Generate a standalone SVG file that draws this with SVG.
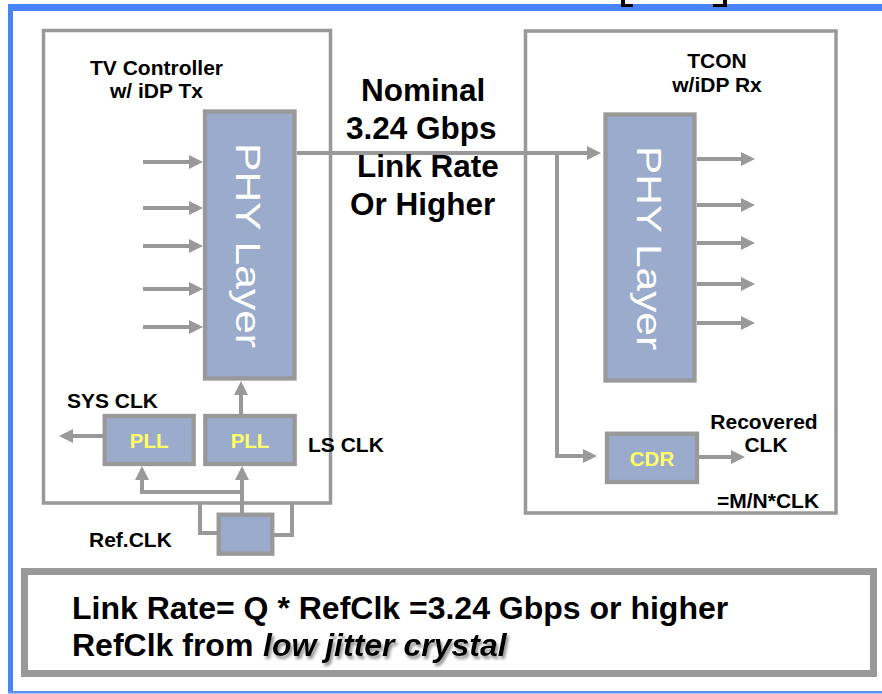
<svg xmlns="http://www.w3.org/2000/svg" width="882" height="694" viewBox="0 0 882 694">
<style>
.frame{fill:#ffffff;stroke:#999999;}
.blk{fill:#9aabcb;stroke:#999999;stroke-width:4.3;}
.ln{fill:none;stroke:#999999;stroke-width:4;}
.lbl{font-family:"Liberation Sans",Arial,Helvetica,sans-serif;font-weight:bold;font-size:21px;fill:#000000;}
.big{font-family:"Liberation Sans",Arial,Helvetica,sans-serif;font-weight:bold;font-size:31.5px;fill:#000000;}
.yel{font-family:"Liberation Sans",Arial,Helvetica,sans-serif;font-weight:bold;font-size:20.5px;fill:#ffff66;text-anchor:middle;}
.phy{font-family:"Liberation Sans",Arial,Helvetica,sans-serif;font-size:35px;fill:#ffffff;text-anchor:middle;}
.note{font-family:"Liberation Sans",Arial,Helvetica,sans-serif;font-weight:bold;font-size:32px;fill:#000000;}
</style>
<defs>
<marker id="ah" markerUnits="userSpaceOnUse" markerWidth="14" markerHeight="14" refX="10" refY="7" orient="auto">
<path d="M0,0 L14,7 L0,14 z" fill="#999999"/>
</marker>
<filter id="sh" x="-10%" y="-30%" width="120%" height="170%">
<feDropShadow dx="2" dy="3" stdDeviation="1.5" flood-color="#777777" flood-opacity="0.8"/>
</filter>
</defs>

<g id="background">
<rect x="0" y="0" width="882" height="694" fill="#ffffff"/>
<rect x="8" y="4" width="874" height="7" fill="#4884f8"/>
<rect x="8" y="4" width="5" height="689" fill="#4884f8"/>
<rect x="8" y="691" width="874" height="2.5" fill="#5b92f6"/>
<path d="M621,0 V7 H633 V4 H625 V0 z" fill="#000000"/>
<path d="M727,0 V7 H713 V4 H723 V0 z" fill="#000000"/>
</g>

<g id="tv-controller">
<rect class="frame" x="43.5" y="30.5" width="287" height="472.5" stroke-width="3.5"/>
<text class="lbl" x="156.5" y="75" text-anchor="middle">TV Controller</text>
<text class="lbl" x="156.5" y="98" text-anchor="middle">w/ iDP Tx</text>
</g>

<g id="tcon">
<rect class="frame" x="525.5" y="31" width="310.5" height="482" stroke-width="3.5"/>
<text class="lbl" x="717" y="68" text-anchor="middle">TCON</text>
<text class="lbl" x="717" y="92" text-anchor="middle">w/iDP Rx</text>
</g>

<g id="connectors">
<line class="ln" x1="143" y1="162" x2="199" y2="162" marker-end="url(#ah)"/>
<line class="ln" x1="143" y1="208" x2="199" y2="208" marker-end="url(#ah)"/>
<line class="ln" x1="143" y1="246" x2="199" y2="246" marker-end="url(#ah)"/>
<line class="ln" x1="143" y1="289" x2="199" y2="289" marker-end="url(#ah)"/>
<line class="ln" x1="143" y1="327" x2="199" y2="327" marker-end="url(#ah)"/>
<line class="ln" x1="697" y1="159" x2="751" y2="159" marker-end="url(#ah)"/>
<line class="ln" x1="697" y1="205" x2="751" y2="205" marker-end="url(#ah)"/>
<line class="ln" x1="697" y1="243" x2="751" y2="243" marker-end="url(#ah)"/>
<line class="ln" x1="697" y1="284" x2="751" y2="284" marker-end="url(#ah)"/>
<line class="ln" x1="697" y1="323" x2="751" y2="323" marker-end="url(#ah)"/>
<line class="ln" x1="297" y1="153" x2="597" y2="153" marker-end="url(#ah)"/>
<path class="ln" d="M557,153 V456 H593" marker-end="url(#ah)"/>
<line class="ln" x1="699" y1="457" x2="741" y2="457" marker-end="url(#ah)"/>
<line class="ln" x1="103" y1="436" x2="63" y2="436" marker-end="url(#ah)"/>
<line class="ln" x1="241" y1="414" x2="241" y2="385" marker-end="url(#ah)"/>
<line class="ln" x1="242" y1="514" x2="242" y2="470" marker-end="url(#ah)"/>
<path class="ln" d="M242,492 H142 V470" marker-end="url(#ah)"/>
<path class="ln" d="M219,533 H200 V503"/>
<path class="ln" d="M273,535 H292 V503"/>
</g>

<g id="tx-phy">
<rect class="blk" x="205" y="111.5" width="89.5" height="267"/>
<text class="phy" transform="translate(236,245.5) rotate(90)" x="0" y="0" textLength="205" lengthAdjust="spacingAndGlyphs">PHY Layer</text>
</g>

<g id="rx-phy">
<rect class="blk" x="605.5" y="114.5" width="89" height="266"/>
<text class="phy" transform="translate(637,248) rotate(90)" x="0" y="0" textLength="204" lengthAdjust="spacingAndGlyphs">PHY Layer</text>
</g>

<g id="pll-sys">
<rect class="blk" x="104.7" y="416" width="89" height="48"/>
<text class="yel" x="149.2" y="448">PLL</text>
</g>

<g id="pll-ls">
<rect class="blk" x="205.3" y="416" width="89.4" height="48"/>
<text class="yel" x="250" y="448">PLL</text>
</g>

<g id="ref-clk">
<rect class="blk" x="218.7" y="514.7" width="53.6" height="39"/>
</g>

<g id="cdr">
<rect class="blk" x="607" y="433.7" width="90" height="48.3"/>
<text class="yel" x="652" y="466">CDR</text>
</g>

<g id="labels">
<text class="big" x="361" y="101">Nominal</text>
<text class="big" x="346" y="139">3.24 Gbps</text>
<text class="big" x="357" y="177">Link Rate</text>
<text class="big" x="350" y="215">Or Higher</text>
<text class="lbl" x="67" y="408">SYS CLK</text>
<text class="lbl" x="308" y="452">LS CLK</text>
<text class="lbl" x="89" y="547">Ref.CLK</text>
<text class="lbl" x="764" y="429" text-anchor="middle">Recovered</text>
<text class="lbl" x="766" y="452" text-anchor="middle">CLK</text>
<text class="lbl" x="717" y="508">=M/N*CLK</text>
</g>

<g id="note">
<rect x="24.5" y="571.5" width="849" height="102" fill="#ffffff" stroke="#999999" stroke-width="7"/>
<text class="note" x="72" y="619">Link Rate= Q * RefClk =3.24 Gbps or higher</text>
<text class="note" x="72" y="656">RefClk from</text>
<text class="note" x="263" y="656" font-style="italic" filter="url(#sh)">low jitter crystal</text>
</g>
</svg>
